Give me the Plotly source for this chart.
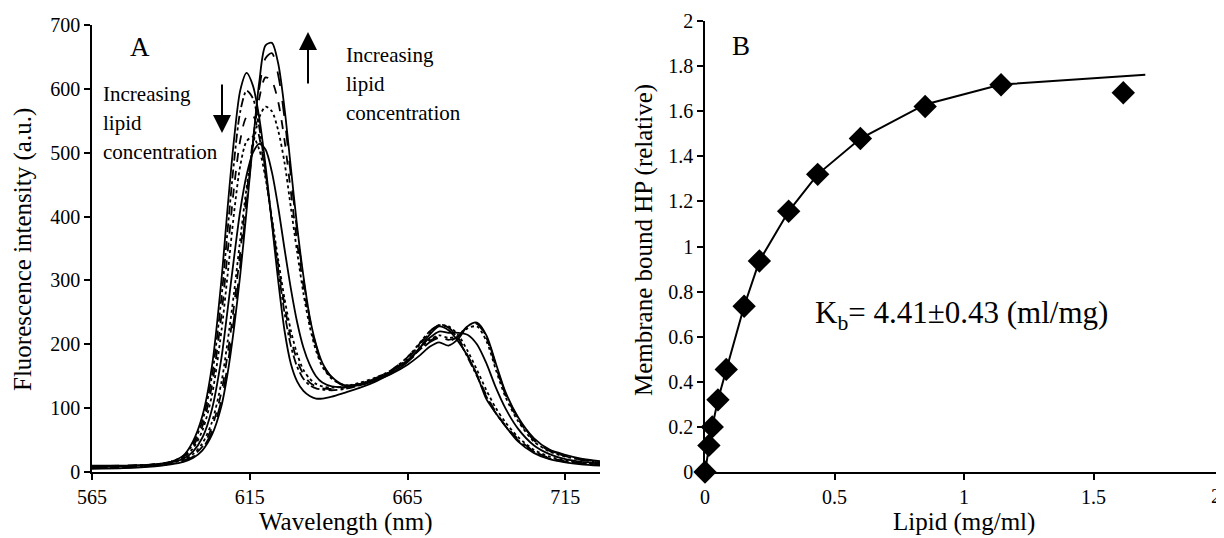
import plotly.graph_objects as go

# ---------------- Panel A data ----------------
wavelength = [565, 575, 585, 590, 594, 597, 600, 603, 606, 608, 610, 612, 614, 616, 618, 620, 622, 624,
              626, 628, 630, 632, 634, 636, 638, 641, 645, 650, 655, 660, 665, 669, 672, 675, 678, 681,
              684, 687, 690, 693, 696, 700, 705, 710, 715, 720, 726]

spec_L1 = [10, 10, 12, 16, 26, 48, 88, 165, 300, 415, 520, 598, 625, 605, 555, 480, 390, 300,
           222, 170, 142, 127, 119, 115, 115, 118, 124, 132, 142, 155, 172, 195, 215, 228, 222, 205,
           182, 152, 114, 92, 72, 48, 30, 20, 15, 12, 10]
spec_L2 = [8, 9, 12, 16, 25, 44, 80, 150, 272, 380, 485, 565, 597, 585, 540, 470, 392, 318,
           250, 198, 165, 146, 136, 131, 129, 128, 130, 136, 145, 158, 178, 200, 218, 230, 226, 208,
           180, 150, 118, 92, 72, 50, 32, 21, 16, 13, 11]
spec_L3 = [9, 10, 12, 16, 24, 40, 72, 135, 245, 345, 445, 520, 556, 558, 525, 465, 395, 325,
           262, 210, 175, 153, 140, 134, 131, 130, 132, 138, 147, 160, 180, 202, 220, 230, 226, 210,
           183, 152, 120, 94, 73, 52, 33, 22, 17, 14, 12]
spec_L4 = [8, 9, 12, 16, 23, 37, 65, 120, 220, 310, 405, 480, 518, 525, 505, 460, 398, 333,
           272, 222, 185, 160, 146, 138, 134, 132, 134, 140, 148, 160, 180, 203, 220, 230, 228, 215,
           190, 160, 128, 100, 78, 55, 35, 24, 18, 15, 13]
spec_M = [8, 9, 12, 15, 21, 32, 54, 98, 178, 255, 335, 410, 465, 500, 514, 505, 470, 415,
          350, 288, 235, 195, 168, 150, 140, 134, 133, 138, 146, 158, 175, 195, 210, 220, 218, 218,
          215, 200, 170, 132, 100, 68, 42, 28, 20, 16, 14]
spec_R1 = [7, 8, 11, 14, 19, 28, 45, 78, 140, 205, 280, 365, 445, 510, 555, 572, 565, 535,
           485, 415, 345, 280, 228, 190, 165, 146, 136, 138, 147, 158, 175, 193, 207, 214, 210, 213,
           225, 228, 205, 160, 118, 80, 48, 32, 24, 19, 15]
spec_R2 = [6, 7, 10, 13, 18, 26, 40, 70, 125, 185, 260, 345, 435, 520, 585, 618, 612, 580,
           520, 440, 360, 292, 235, 195, 168, 147, 135, 137, 146, 157, 174, 192, 205, 212, 207, 212,
           228, 232, 210, 165, 122, 83, 50, 33, 25, 19, 15]
spec_R3 = [6, 7, 10, 12, 17, 24, 37, 63, 112, 168, 240, 325, 420, 515, 600, 648, 656, 622,
           555, 465, 378, 302, 240, 198, 170, 148, 136, 137, 146, 157, 173, 190, 203, 210, 205, 212,
           230, 233, 212, 168, 124, 85, 52, 34, 26, 20, 16]
spec_R4 = [5, 6, 9, 12, 16, 22, 34, 58, 103, 155, 225, 310, 410, 515, 610, 668, 672, 640,
           570, 478, 385, 307, 243, 200, 171, 149, 136, 136, 144, 154, 168, 183, 196, 203, 198, 208,
           228, 234, 214, 170, 126, 86, 53, 35, 27, 21, 17]

spectra = [spec_L1, spec_L2, spec_L3, spec_L4, spec_M, spec_R1, spec_R2, spec_R3, spec_R4]
dash_styles = ["solid", "dashdot", "dash", "dot", "solid", "dot", "dash", "longdash", "solid"]

x_ticks_a = [565, 615, 665, 715]
y_ticks_a = [0, 100, 200, 300, 400, 500, 600, 700]

# ---------------- Panel B data ----------------
lipid = [0, 0.015, 0.028, 0.05, 0.082, 0.151, 0.21, 0.323, 0.435, 0.6, 0.85, 1.143, 1.615]
bound = [0, 0.118, 0.2, 0.32, 0.455, 0.735, 0.936, 1.156, 1.32, 1.479, 1.621, 1.717, 1.682]
fit_x = [0, 0.015, 0.028, 0.05, 0.082, 0.151, 0.21, 0.323, 0.435, 0.6, 0.85, 1.143, 1.7]
fit_y = [0, 0.118, 0.2, 0.32, 0.455, 0.735, 0.936, 1.156, 1.32, 1.479, 1.63, 1.718, 1.762]

x_ticks_b = [0, 0.5, 1, 1.5, 2]
x_ticktext_b = ["0", "0.5", "1", "1.5", "2"]
y_ticks_b = [0, 0.2, 0.4, 0.6, 0.8, 1, 1.2, 1.4, 1.6, 1.8, 2]
y_ticktext_b = ["0", "0.2", "0.4", "0.6", "0.8", "1", "1.2", "1.4", "1.6", "1.8", "2"]

# the page body adds an 8 px margin, so the figure is drawn 8 px in from the corner
OFF = 8
W, H = 1224 - OFF, 538 - OFF
FONT = "Liberation Serif"


def fx(p):
    return (p - OFF) / W


def fy(p):
    return 1 - (p - OFF) / H


fig = go.Figure()

for s, d in zip(spectra, dash_styles):
    fig.add_trace(go.Scatter(x=wavelength, y=s, mode="lines",
                             line=dict(color="black", width=1.8, dash=d, shape="spline", smoothing=0.8),
                             xaxis="x", yaxis="y", showlegend=False, hoverinfo="skip"))

fig.add_trace(go.Scatter(x=fit_x, y=fit_y, mode="lines", line=dict(color="black", width=2),
                         xaxis="x2", yaxis="y2", showlegend=False, cliponaxis=False))
fig.add_trace(go.Scatter(x=lipid, y=bound, mode="markers",
                         marker=dict(symbol="diamond", size=18, color="black"),
                         xaxis="x2", yaxis="y2", showlegend=False, cliponaxis=False))

axis_common = dict(showgrid=False, zeroline=False, showline=True, linecolor="black", linewidth=1.5,
                   ticks="outside", ticklen=6, tickwidth=1.5, tickcolor="black", automargin=False,
                   tickfont=dict(family=FONT, size=20, color="black"))

fig.update_layout(
    width=W, height=H, margin=dict(l=0, r=0, t=0, b=0, pad=0, autoexpand=False),
    paper_bgcolor="white", plot_bgcolor="white",
    font=dict(family=FONT, color="black"),
    xaxis=dict(domain=[fx(92), fx(600)], range=[565, 726], tickvals=x_ticks_a, anchor="y", **axis_common),
    yaxis=dict(domain=[fy(472), fy(25)], range=[0, 700], tickvals=y_ticks_a, anchor="x", **axis_common),
    xaxis2=dict(domain=[fx(705), fx(1223)], range=[0, 2], tickvals=x_ticks_b, ticktext=x_ticktext_b, anchor="y2", **axis_common),
    yaxis2=dict(domain=[fy(472), fy(21)], range=[0, 2], tickvals=y_ticks_b, ticktext=y_ticktext_b, anchor="x2", **axis_common),
)

ann = []


def text(x, y, t, size, xanchor="center", angle=0):
    ann.append(dict(x=fx(x), y=fy(y), xref="paper", yref="paper", text=t, showarrow=False,
                    xanchor=xanchor, yanchor="middle", textangle=angle,
                    font=dict(family=FONT, size=size, color="black")))


text(346, 522, "Wavelength (nm)", 25)
text(23, 250, "Fluorescence intensity (a.u.)", 25, angle=-90)
text(964, 522, "Lipid (mg/ml)", 25)
text(644, 240, "Membrane bound HP (relative)", 25, angle=-90)
text(140, 47, "A", 27)
text(741, 46, "B", 27)
# last x tick label of panel B sits at the page edge
text(1216, 496, x_ticktext_b[-1], 20)
for i, t in enumerate(["Increasing", "lipid", "concentration"]):
    text(101, 94 + 29 * i, t, 21, xanchor="left")
    text(344, 55 + 29 * i, t, 21, xanchor="left")

ann.append(dict(x=0.99, y=0.695, xref="x2", yref="y2", text="K<sub>b</sub>= 4.41±0.43 (ml/mg)",
                showarrow=False, xanchor="center", yanchor="middle",
                font=dict(family=FONT, size=31, color="black")))

# arrows
ann.append(dict(x=fx(222), y=fy(133), xref="paper", yref="paper", ax=0, ay=-50, axref="pixel", ayref="pixel",
                text="", showarrow=True, arrowhead=2, arrowsize=1.8, arrowwidth=2, arrowcolor="black"))
ann.append(dict(x=fx(308), y=fy(32), xref="paper", yref="paper", ax=0, ay=53, axref="pixel", ayref="pixel",
                text="", showarrow=True, arrowhead=2, arrowsize=1.8, arrowwidth=2, arrowcolor="black"))

fig.update_layout(annotations=ann)

fig.write_html("out.html")
